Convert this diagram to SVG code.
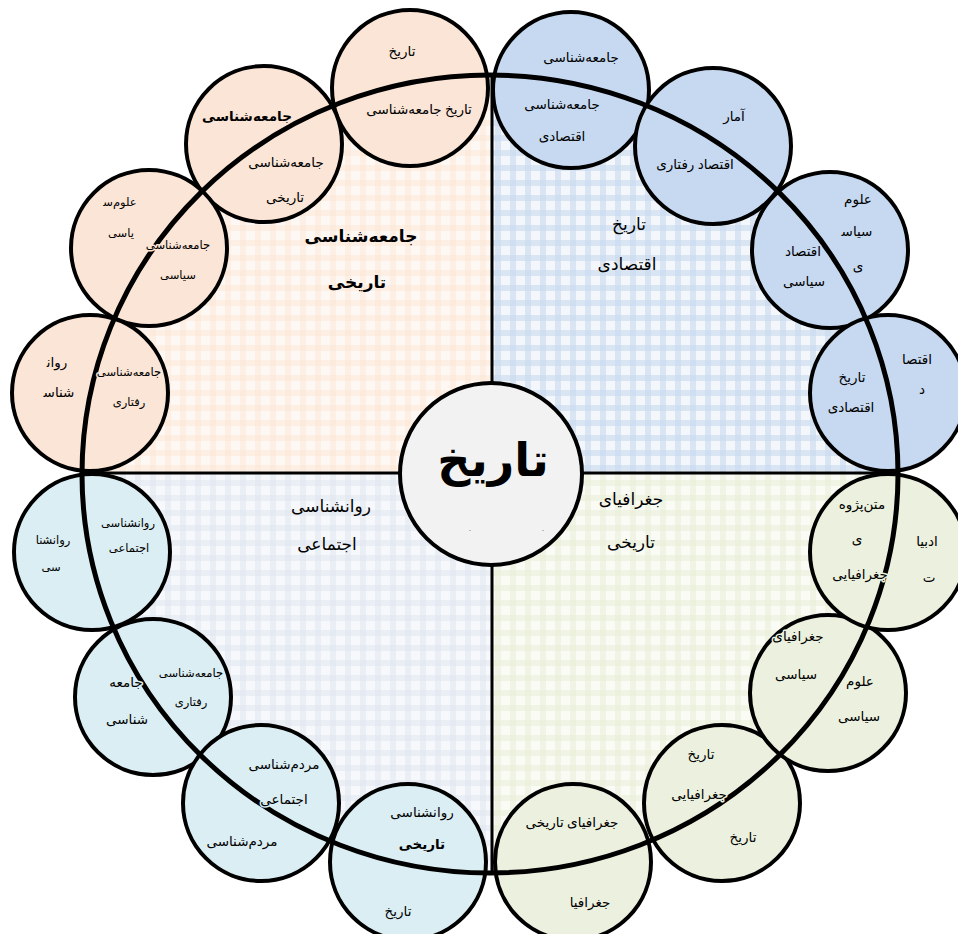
<svg xmlns="http://www.w3.org/2000/svg" width="958" height="934" viewBox="0 0 958 934">
<defs>
<style>
text{font-family:"Liberation Serif","DejaVu Sans",serif;text-anchor:middle;fill:#000}
.s{font-size:13.5px;paint-order:stroke;stroke-width:3px;stroke-linejoin:round}
.xs{font-size:11.5px}
.b{font-weight:bold}
.q{font-size:17px}
.tl{stroke:#fbe5d6}.tr{stroke:#c6d9f1}.bl{stroke:#daeef3}.br{stroke:#ebf1de}
.c{stroke:#000;stroke-width:4}
</style>
<pattern id="pTL" width="15" height="15" patternUnits="userSpaceOnUse">
<rect width="15" height="15" fill="#fef8f4"/>
<rect width="6" height="15" fill="#fae6d7" opacity="0.55"/>
<rect width="15" height="6" fill="#fae6d7" opacity="0.55"/>
</pattern>
<pattern id="pTR" width="15" height="15" patternUnits="userSpaceOnUse">
<rect width="15" height="15" fill="#f3f7fc"/>
<rect width="6" height="15" fill="#c9d9ef" opacity="0.6"/>
<rect width="15" height="6" fill="#c9d9ef" opacity="0.6"/>
</pattern>
<pattern id="pBL" width="15" height="15" patternUnits="userSpaceOnUse">
<rect width="15" height="15" fill="#f6f8fb"/>
<rect width="6" height="15" fill="#dfe5f0" opacity="0.55"/>
<rect width="15" height="6" fill="#dfe5f0" opacity="0.55"/>
</pattern>
<pattern id="pBR" width="15" height="15" patternUnits="userSpaceOnUse">
<rect width="15" height="15" fill="#f9fbf4"/>
<rect width="6" height="15" fill="#e9eed9" opacity="0.55"/>
<rect width="15" height="6" fill="#e9eed9" opacity="0.55"/>
</pattern>
<clipPath id="ell"><ellipse cx="490" cy="474" rx="408" ry="399"/></clipPath>
</defs>
<rect width="958" height="934" fill="#fff"/>
<g id="quadrants" clip-path="url(#ell)">
<rect x="80" y="70" width="412" height="403" fill="url(#pTL)"/>
<rect x="492" y="70" width="410" height="403" fill="url(#pTR)"/>
<rect x="80" y="473" width="412" height="405" fill="url(#pBL)"/>
<rect x="492" y="473" width="410" height="405" fill="url(#pBR)"/>
</g>
<g id="connectors" fill="none" stroke="#000">
<line x1="492" y1="75" x2="492" y2="874" stroke-width="3"/>
<line x1="82" y1="473" x2="898" y2="473" stroke-width="3"/>
</g>
<g id="n1"><circle class="c" cx="410" cy="88" r="78" fill="#fbe5d6"/></g>
<g id="n2"><circle class="c" cx="264" cy="144" r="78" fill="#fbe5d6"/></g>
<g id="n3"><circle class="c" cx="149" cy="248" r="78" fill="#fbe5d6"/></g>
<g id="n4"><circle class="c" cx="90" cy="393" r="78" fill="#fbe5d6"/></g>
<g id="n5"><circle class="c" cx="571" cy="90" r="78" fill="#c6d9f1"/></g>
<g id="n6"><circle class="c" cx="713" cy="146" r="78" fill="#c6d9f1"/></g>
<g id="n7"><circle class="c" cx="830" cy="250" r="78" fill="#c6d9f1"/></g>
<g id="n8"><circle class="c" cx="888" cy="393" r="78" fill="#c6d9f1"/></g>
<g id="n9"><circle class="c" cx="92" cy="552" r="78" fill="#daeef3"/></g>
<g id="n10"><circle class="c" cx="153" cy="697" r="78" fill="#daeef3"/></g>
<g id="n11"><circle class="c" cx="261" cy="803" r="78" fill="#daeef3"/></g>
<g id="n12"><circle class="c" cx="408" cy="862" r="78" fill="#daeef3"/></g>
<g id="n13"><circle class="c" cx="573" cy="862" r="78" fill="#ebf1de"/></g>
<g id="n14"><circle class="c" cx="722" cy="803" r="78" fill="#ebf1de"/></g>
<g id="n15"><circle class="c" cx="828" cy="693" r="78" fill="#ebf1de"/></g>
<g id="n16"><circle class="c" cx="888" cy="552" r="78" fill="#ebf1de"/></g>
<g id="ring"><ellipse cx="490" cy="474" rx="408" ry="399" fill="none" stroke="#000" stroke-width="5"/></g>
<g id="center"><circle cx="491" cy="474" r="91" fill="#f2f2f2" stroke="#000" stroke-width="4"/>
<text x="493" y="476" font-size="46" font-weight="bold">تاریخ</text>
<text x="470" y="531" font-size="6">.</text>
<text x="543" y="531" font-size="6">.</text>
</g>
<g id="labels">
<text class="q b" x="361" y="242">جامعه‌شناسی</text>
<text class="q b" x="357" y="288">تاریخی</text>
<text class="q" x="629" y="230">تاریخ</text>
<text class="q" x="627" y="270">اقتصادی</text>
<text class="q" x="331" y="512">روانشناسی</text>
<text class="q" x="327" y="550">اجتماعی</text>
<text class="q" x="631" y="505">جغرافیای</text>
<text class="q" x="631" y="548">تاریخی</text>
</g>
<g id="t-tl">
<text class="s tl" x="402" y="56">تاریخ</text>
<text class="s tl" x="419" y="114">تاریخ جامعه‌شناسی</text>
<text class="s tl b" x="247" y="121">جامعه‌شناسی</text>
<text class="s tl" x="286" y="167">جامعه‌شناسی</text>
<text class="s tl" x="285" y="202">تاریخی</text>
<text class="s tl xs" x="120" y="206">علوم‌س‍</text>
<text class="s tl xs" x="121" y="237">یاسی</text>
<text class="s tl xs" x="178" y="249">جامعه‌شناسی</text>
<text class="s tl xs" x="178" y="279">سیاسی</text>
<text class="s tl" x="57" y="367">روان‍</text>
<text class="s tl" x="59" y="397">شناس‍</text>
<text class="s tl xs" x="129" y="376">جامعه‌شناسی</text>
<text class="s tl xs" x="129" y="406">رفتاری</text>
</g>
<g id="t-tr">
<text class="s tr" x="581" y="62">جامعه‌شناسی</text>
<text class="s tr" x="562" y="109">جامعه‌شناسی</text>
<text class="s tr" x="562" y="141">اقتصادی</text>
<text class="s tr" x="734" y="121">آمار</text>
<text class="s tr" x="695" y="169">اقتصاد رفتاری</text>
<text class="s tr" x="858" y="204">علوم</text>
<text class="s tr" x="857" y="236">سیاس‍</text>
<text class="s tr" x="858" y="271">ی</text>
<text class="s tr" x="803" y="256">اقتصاد</text>
<text class="s tr" x="804" y="286">سیاسی</text>
<text class="s tr" x="917" y="364">اقتصا</text>
<text class="s tr" x="922" y="394">د</text>
<text class="s tr" x="852" y="382">تاریخ</text>
<text class="s tr" x="851" y="412">اقتصادی</text>
</g>
<g id="t-bl">
<text class="s bl xs" x="53" y="544">روانشنا</text>
<text class="s bl xs" x="51" y="571">سی</text>
<text class="s bl xs" x="128" y="527">روانشناسی</text>
<text class="s bl xs" x="129" y="552">اجتماعی</text>
<text class="s bl" x="126" y="687">جامعه</text>
<text class="s bl" x="127" y="724">شناسی</text>
<text class="s bl xs" x="191" y="677">جامعه‌شناسی</text>
<text class="s bl xs" x="191" y="706">رفتاری</text>
<text class="s bl" x="284" y="769">مردم‌شناسی</text>
<text class="s bl" x="284" y="804">اجتماعی</text>
<text class="s bl" x="242" y="846">مردم‌شناسی</text>
<text class="s bl" x="422" y="817">روانشناسی</text>
<text class="s bl b" x="422" y="849">تاریخی</text>
<text class="s bl" x="398" y="916">تاریخ</text>
</g>
<g id="t-br">
<text class="s br" x="572" y="827">جغرافیای تاریخی</text>
<text class="s br" x="590" y="907">جغرافیا</text>
<text class="s br" x="701" y="759">تاریخ</text>
<text class="s br" x="699" y="799">جغرافیایی</text>
<text class="s br" x="743" y="842">تاریخ</text>
<text class="s br" x="798" y="641">جغرافیای</text>
<text class="s br" x="796" y="679">سیاسی</text>
<text class="s br" x="860" y="686">علوم</text>
<text class="s br" x="859" y="721">سیاسی</text>
<text class="s br" x="862" y="509">متن‌پژوه</text>
<text class="s br" x="857" y="544">ی</text>
<text class="s br" x="860" y="579">جغرافیایی</text>
<text class="s br" x="927" y="546">ادبیا</text>
<text class="s br" x="929" y="582">ت</text>
</g>
</svg>
